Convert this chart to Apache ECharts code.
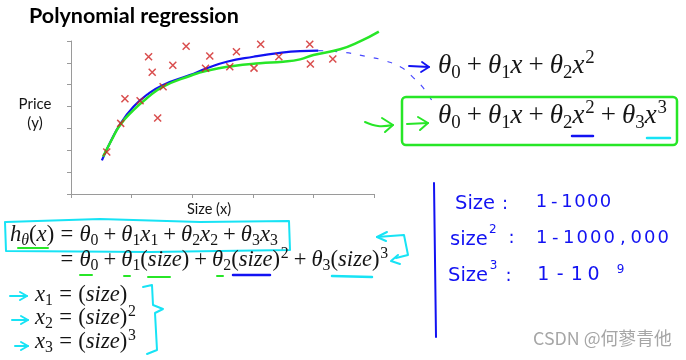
<!DOCTYPE html>
<html><head><meta charset="utf-8">
<script src="https://cdn.jsdelivr.net/npm/echarts@6/dist/echarts.min.js"></script>
<style>html,body{margin:0;padding:0;background:#fff}#c{width:686px;height:360px}</style>
</head><body><div id="c"></div>
<script>
// ---- data ----
const xTicks=[0,1,2,3,4,5];
const yTicks=[0,1,2,3,4,5,6,7];
const scatterX=[0.59,0.82,0.89,1.14,1.28,1.34,1.43,1.52,1.68,1.90,2.22,2.29,2.62,2.73,3.02,3.13,3.43,3.94,3.95,4.32];
const scatterY=[1.92,3.23,4.36,4.27,6.28,5.57,3.48,4.91,5.89,6.76,5.75,6.31,5.82,6.51,5.76,6.85,6.28,6.85,5.95,6.18];
const quadX=[0.51,0.64,0.82,1.03,1.25,1.52,1.96,2.24,2.57,3.01,3.45,3.78,4.08];
const quadY=[1.54,2.32,3.23,3.99,4.53,4.99,5.44,5.75,6.05,6.28,6.46,6.54,6.56];
const quadExtX=[4.08,4.50,4.90,5.18,5.47,5.64,5.80,5.95];
const quadExtY=[6.56,6.48,6.28,6.10,5.76,5.35,4.90,4.30];
const cubicX=[0.53,0.67,0.81,1.03,1.25,1.52,1.96,2.24,2.68,3.12,3.50,3.78,4.00,4.44,4.76,5.08];
const cubicY=[1.71,2.47,3.16,3.84,4.38,4.91,5.40,5.64,5.86,5.98,6.05,6.16,6.36,6.62,6.97,7.43];

const zip=(a,b)=>a.map((v,i)=>[v,b[i]]);

// ---- text helpers ----
const MATH='"Liberation Serif"';
const SANS='Lato';
const cv=document.createElement('canvas').getContext('2d');
function fontStr(size,family,style,weight){return (style||'normal')+' '+(weight||'normal')+' '+size+'px '+family;}
function measure(t,f){cv.font=f;return cv.measureText(t);}
function midOff(f,size){cv.font=f;cv.textBaseline='alphabetic';const m=cv.measureText('Hg');
  if(m.fontBoundingBoxAscent!==undefined)return (m.fontBoundingBoxAscent-m.fontBoundingBoxDescent)/2;return 0.33*size;}
function txt(t,x,base,size,family,o){o=o||{};const f=fontStr(size,family,o.style,o.weight);
  const corr=(family===SANS)?0.17*size:0;
  return {type:'text',x:x,y:base-midOff(f,size)+corr,silent:true,z:10,style:{text:t,fontSize:size,fontFamily:family,fontStyle:o.style||'normal',fontWeight:o.weight||'normal',fill:o.color||'#151515',align:o.align||'left',verticalAlign:'middle'}};}
function fitText(t,width,family,o){o=o||{};const w=measure(t,fontStr(100,family,o.style,o.weight)).width;return 100*width/w;}

function formula(tokens,x0,base,size,color){
  let x=x0;const els=[];let eqX=null;
  for(const [t,k] of tokens){
    let fs=size,it=false,dy=0,pl=0,pr=0;
    if(k==='i')it=true;
    else if(k==='sub'){fs=size*0.7;dy=size*0.15;}
    else if(k==='subi'){fs=size*0.7;dy=size*0.15;it=true;}
    else if(k==='sup'){fs=size*0.7;dy=-size*0.40;pl=size*0.03;}
    else if(k==='bin'){pl=pr=size*4/18;}
    else if(k==='rel'){pl=pr=size*5/18;}
    x+=pl;
    if(k==='rel'&&eqX===null)eqX=x-pl;
    const f=fontStr(fs,MATH,it?'italic':'normal');
    const w=measure(t,f).width;
    els.push(txt(t,x,base+dy,fs,MATH,{style:it?'italic':'normal',color:color}));
    x+=w+pr;
  }
  return {els:els,end:x,eqX:eqX};
}
function fitFormula(tokens,width){const r=formula(tokens,0,0,100,'#000');return 100*width/r.end;}

const F1=[['θ','i'],['0','sub'],['+','bin'],['θ','i'],['1','sub'],['x','i'],['+','bin'],['θ','i'],['2','sub'],['x','i'],['2','sup']];
const F2=F1.concat([['+','bin'],['θ','i'],['3','sub'],['x','i'],['3','sup']]);
const F3=[['h','i'],['θ','subi'],['(','r'],['x','i'],[')','r'],['=','rel'],['θ','i'],['0','sub'],['+','bin'],['θ','i'],['1','sub'],['x','i'],['1','sub'],['+','bin'],['θ','i'],['2','sub'],['x','i'],['2','sub'],['+','bin'],['θ','i'],['3','sub'],['x','i'],['3','sub']];
const F4=[['=','rel'],['θ','i'],['0','sub'],['+','bin'],['θ','i'],['1','sub'],['(','r'],['size','i'],[')','r'],['+','bin'],['θ','i'],['2','sub'],['(','r'],['size','i'],[')','r'],['2','sup'],['+','bin'],['θ','i'],['3','sub'],['(','r'],['size','i'],[')','r'],['3','sup']];
const F5=[['x','i'],['1','sub'],['=','rel'],['(','r'],['size','i'],[')','r']];
const F6=[['x','i'],['2','sub'],['=','rel'],['(','r'],['size','i'],[')','r'],['2','sup']];
const F7=[['x','i'],['3','sub'],['=','rel'],['(','r'],['size','i'],[')','r'],['3','sup']];

const GREEN='#27e627', CYAN='#17e3f5', BLUE='#1212f2', INK='#151515';
const graphic=[];
function pl(points,color,w,smooth){graphic.push({type:'polyline',silent:true,z:9,shape:{points:points,smooth:smooth||0},style:{stroke:color,lineWidth:w||2,fill:null,lineCap:'round',lineJoin:'round'}});}

// title and axis names
const tSize=fitText('Polynomial regression',210,SANS,{weight:'bold'});
graphic.push(txt('Polynomial regression',29,20,tSize,SANS,{weight:'bold',color:'#000'}));
graphic.push(txt('Price',35,108,15,SANS,{align:'center'}));
graphic.push(txt('(y)',35,127,15,SANS,{align:'center'}));
graphic.push(txt('Size (x)',209,212,14.5,SANS,{align:'center'}));

// right formulas
const s2=fitFormula(F2,229);
formula(F1,438,75,s2,INK).els.forEach(e=>graphic.push(e));
formula(F2,438,125,s2,INK).els.forEach(e=>graphic.push(e));
graphic.push({type:'rect',silent:true,z:8,shape:{x:402,y:97,width:275,height:48,r:4},style:{stroke:GREEN,lineWidth:2.5,fill:null}});
pl([[572,136],[593,136]],BLUE,2.5);
pl([[647,138],[670,138]],CYAN,2.5);
// arrows near box
pl([[409,66],[429,67]],BLUE,1.8); pl([[422,62],[429,67],[421,72]],BLUE,1.8);
pl([[407,124],[428,123]],GREEN,2); pl([[418,117],[428,123],[420,130]],GREEN,2);
pl([[365,122],[378,126],[393,125]],GREEN,2,0.4); pl([[382,118],[393,125],[385,132]],GREEN,2);

// left formulas
const s3=fitFormula(F3,268);
const r3=formula(F3,10,243,s3,INK); r3.els.forEach(e=>graphic.push(e));
formula(F4,r3.eqX,268,s3,INK).els.forEach(e=>graphic.push(e));
formula(F5,35,303,s3,INK).els.forEach(e=>graphic.push(e));
formula(F6,35,326,s3,INK).els.forEach(e=>graphic.push(e));
formula(F7,35,350,s3,INK).els.forEach(e=>graphic.push(e));
// cyan box around h formula
pl([[6,222],[100,219],[200,222],[289,221],[290,250],[150,252],[6,251],[5,222]],CYAN,2);
pl([[18,248],[48,248]],GREEN,2);
// underlines on second line
pl([[80,275],[92,275]],GREEN,2); pl([[124,276],[130,276]],GREEN,2); pl([[148,277],[170,277]],GREEN,2);
pl([[217,276],[223,276]],GREEN,2); pl([[233,275],[270,275]],BLUE,2.5); pl([[332,276],[372,277]],CYAN,2.5);
// cyan hook arrow
pl([[387,232],[377,237],[386,241]],CYAN,2); pl([[377,237],[404,235],[408,255],[396,258]],CYAN,2);
pl([[398,255],[391,261],[400,264]],CYAN,2);
// cyan arrows before x1..x3
[[10,27,296],[12,28,320],[15,28,346]].forEach(a=>{pl([[a[0],a[2]],[a[1],a[2]]],CYAN,2);pl([[a[1]-7,a[2]-4],[a[1],a[2]],[a[1]-7,a[2]+4]],CYAN,2);});
// brace
pl([[143,287],[152,285],[153,305],[163,309],[155,313],[157,350],[147,354]],CYAN,2);

// handwritten block
pl([[434,183],[436,337]],BLUE,2);
const HW='"DejaVu Sans"';
const WS=19.5;
function word(s,x0,cy,size){graphic.push(txt(s,x0,cy+size*0.36,size,HW,{color:BLUE}));return x0+measure(s,fontStr(size,HW)).width;}
function spread(s,x0,x1,cy,size){const n=s.length;for(let i=0;i<n;i++){graphic.push(txt(s[i],x0+(i+0.5)*(x1-x0)/n,cy+size*0.36,size,HW,{align:'center',color:BLUE}));}}
word('Size',455,203,WS); spread(':',502,508,204,18); spread('1-1000',535,612,202,18);
let e2=word('size',450,239,WS); spread('2',e2+1,e2+9,230,12); spread(':',509,514,238,18); spread('1-1000,000',535,670,238,18);
let e3=word('Size',448,275,WS); spread('3',e3+1,e3+10,266,12); spread(':',506,511,276,18); spread('1-10',535,602,275,19); spread('9',617,624,270,12);

// watermark
const wm='CSDN @何蓼青他';
graphic.push(txt(wm,533,346,fitText(wm,139,'"Noto Sans CJK SC"'),'"Noto Sans CJK SC"',{color:'#a6a6a6'}));

const axisCol='#9a9a9a';
const hiddenAxis={show:false,axisLine:{show:false},axisTick:{show:false},axisLabel:{show:false},splitLine:{show:false}};
const option={
  animation:false,
  grid:[{left:71,right:312,top:41,bottom:166,containLabel:false},
        {left:71,right:686-(71+6*60.6),top:194-8*(153/7),bottom:166,containLabel:false}],
  xAxis:[{type:'value',gridIndex:0,min:xTicks[0],max:xTicks[xTicks.length-1],interval:1,
    axisLine:{show:true,lineStyle:{color:axisCol,width:1}},axisTick:{show:true,length:4,lineStyle:{color:axisCol}},
    axisLabel:{show:false},splitLine:{show:false}},
    Object.assign({type:'value',gridIndex:1,min:0,max:6,interval:1},hiddenAxis)],
  yAxis:[{type:'value',gridIndex:0,min:yTicks[0],max:yTicks[yTicks.length-1],interval:1,
    axisLine:{show:true,lineStyle:{color:axisCol,width:1}},axisTick:{show:true,length:4,lineStyle:{color:axisCol}},
    axisLabel:{show:false},splitLine:{show:false}},
    Object.assign({type:'value',gridIndex:1,min:0,max:8,interval:1},hiddenAxis)],
  series:[
    {type:'line',xAxisIndex:1,yAxisIndex:1,data:zip(quadExtX,quadExtY),smooth:true,showSymbol:false,symbol:'none',clip:false,z:2,
      lineStyle:{color:'#4a4aff',width:1.2,type:[5,9]}},
    {type:'line',xAxisIndex:1,yAxisIndex:1,data:zip(quadX,quadY),smooth:true,showSymbol:false,symbol:'none',clip:false,z:3,
      lineStyle:{color:BLUE,width:2.2}},
    {type:'line',xAxisIndex:1,yAxisIndex:1,data:zip(cubicX,cubicY),smooth:true,showSymbol:false,symbol:'none',clip:false,z:4,
      lineStyle:{color:GREEN,width:2.5}},
    {type:'scatter',xAxisIndex:0,yAxisIndex:0,data:zip(scatterX,scatterY),symbol:'path://M0,0L10,10M10,0L0,10',symbolSize:7,z:5,
      itemStyle:{color:'rgba(0,0,0,0)',borderColor:'#cf2020',borderWidth:1.5}}
  ],
  graphic:graphic
};
const chart=echarts.init(document.getElementById('c'),null,{renderer:'canvas'});
chart.setOption(option);
</script></body></html>
